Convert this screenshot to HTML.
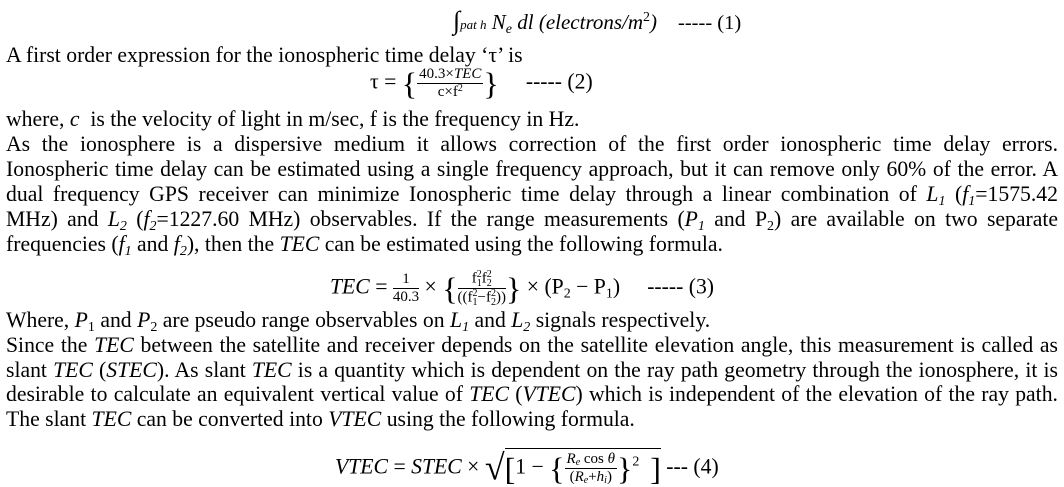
<!DOCTYPE html>
<html><head><meta charset="utf-8"><style>
html,body{margin:0;padding:0;background:#fff;}
body{width:1064px;height:487px;position:relative;overflow:hidden;font-family:"Liberation Serif",serif;font-size:21.7px;color:#000;}
.l{position:absolute;left:6px;width:1052px;line-height:22px;white-space:nowrap;}
.j{text-align:justify;text-align-last:justify;white-space:normal;}
.a{position:absolute;line-height:22px;white-space:nowrap;}
i{font-style:italic;}
sub{font-size:14px;vertical-align:-4px;line-height:0;}
sup{font-size:14px;vertical-align:8px;line-height:0;}
.fr{display:inline-block;vertical-align:middle;text-align:center;font-size:15px;line-height:17px;}
.fr .n{border-bottom:1px solid #000;padding:0 2px;}
.fr sub{font-size:10px;vertical-align:-2px;}
.fr sup{font-size:10px;vertical-align:5px;}
.ss{display:inline-block;vertical-align:middle;font-size:10px;line-height:9px;text-align:left;}
.br{font-size:32px;vertical-align:middle;font-weight:100;}
</style></head><body>
<div class="a" style="left:453px;top:10px;font-size:21px;"><span style="font-size:26px;">∫</span><i style="font-size:13px;">pat h</i> <i>N<sub>e</sub> dl</i> <i>(electrons/m</i><sup>2</sup><i>)</i> &nbsp;&nbsp; <span style="font-size:20.5px;">----- (1)</span></div>
<div class="l" style="top:44px;">A first order expression for the ionospheric time delay ‘τ’ is</div>
<div class="a" style="left:370px;top:66px;">τ = <span class="br">{</span><span class="fr"><div class="n"><span>40.3×</span><i>TEC</i></div><div>c×f<sup>2</sup></div></span><span class="br">}</span> &nbsp;&nbsp;&nbsp; ----- (2)</div>
<div class="l" style="top:108px;">where, <i>c</i> &nbsp;is the velocity of light in m/sec, f is the frequency in Hz.</div>
<div class="l j" style="top:133px;">As the ionosphere is a dispersive medium it allows correction of the first order ionospheric time delay errors.</div>
<div class="l j" style="top:158px;">Ionospheric time delay can be estimated using a single frequency approach, but it can remove only 60% of the error. A</div>
<div class="l j" style="top:183px;">dual frequency GPS receiver can minimize Ionospheric time delay through a linear combination of <i>L<sub>1</sub></i> (<i>f<sub>1</sub></i>=1575.42</div>
<div class="l j" style="top:208px;">MHz) and <i>L<sub>2</sub></i> (<i>f<sub>2</sub></i>=1227.60 MHz) observables. If the range measurements (<i>P<sub>1</sub></i> and P<sub>2</sub>) are available on two separate</div>
<div class="l" style="top:233px;">frequencies (<i>f<sub>1</sub></i> and <i>f<sub>2</sub></i>), then the <i>TEC</i> can be estimated using the following formula.</div>
<div class="a" style="left:330px;top:270px;"><i>TEC</i> = <span class="fr"><div class="n">1</div><div>40.3</div></span> × <span class="br">{</span><span class="fr"><div class="n">f<span class="ss">2<br>1</span>f<span class="ss">2<br>2</span></div><div>((f<span class="ss">2<br>1</span>−f<span class="ss">2<br>2</span>))</div></span><span class="br">}</span> × (P<sub>2</sub> − P<sub>1</sub>) &nbsp;&nbsp;&nbsp; ----- (3)</div>
<div class="l" style="top:309px;">Where, <i>P</i><sub>1</sub> and <i>P</i><sub>2</sub> are pseudo range observables on <i>L<sub>1</sub></i> and <i>L<sub>2</sub></i> signals respectively.</div>
<div class="l j" style="top:334px;">Since the <i>TEC</i> between the satellite and receiver depends on the satellite elevation angle, this measurement is called as</div>
<div class="l j" style="top:359px;">slant <i>TEC</i> (<i>STEC</i>). As slant <i>TEC</i> is a quantity which is dependent on the ray path geometry through the ionosphere, it is</div>
<div class="l j" style="top:383px;">desirable to calculate an equivalent vertical value of <i>TEC</i> (<i>VTEC</i>) which is independent of the elevation of the ray path.</div>
<div class="l" style="top:408px;">The slant <i>TEC</i> can be converted into <i>VTEC</i> using the following formula.</div>
<div class="a" style="left:335px;top:448px;"><i>VTEC</i> = <i>STEC</i> × <span style="font-size:36px;vertical-align:-6px;">√</span><span style="display:inline-block;border-top:1px solid #000;padding-top:2px;"><span style="font-size:32px;vertical-align:middle">[</span>1 − <span class="br">{</span><span class="fr"><div class="n"><i>R<sub>e</sub></i> cos <i>θ</i></div><div>(<i>R<sub>e</sub></i>+<i>h<sub>i</sub></i>)</div></span><span class="br">}</span><sup>2</sup> &nbsp;<span style="font-size:32px;vertical-align:middle">]</span></span> --- (4)</div>
</body></html>
